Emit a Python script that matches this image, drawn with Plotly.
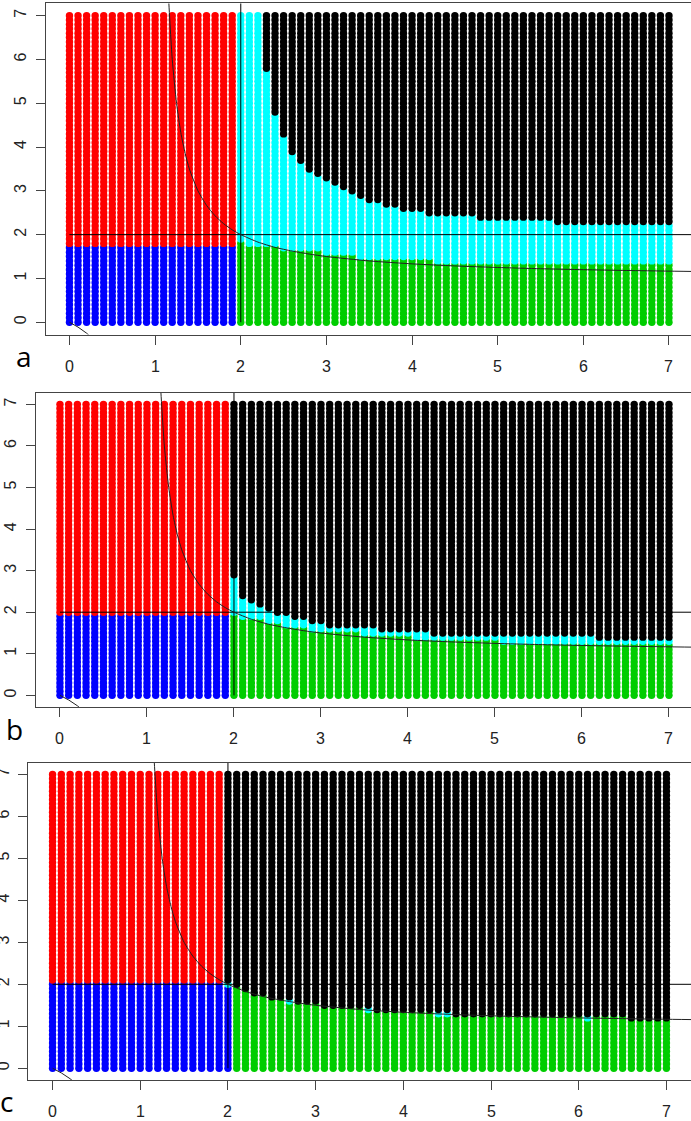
import numpy as np
import plotly.graph_objects as go

# ---------------- data ----------------
# evaluation grid (0 .. 7, step 0.1 on both axes)
grid_x = np.round(np.arange(0, 7.0001, 0.1), 1)
grid_y = np.round(np.arange(0, 7.0001, 0.1), 1)
tick_vals = [0, 1, 2, 3, 4, 5, 6, 7]
tick_text = ["0", "1", "2", "3", "4", "5", "6", "7"]
panel_letters = ["a", "b", "c"]

# columns x = 2.0 .. 7.0 (51 columns): top of lower class, bottom of black class
a_blue_top = 1.7
a_green_start = 2.0
a_low_top = [1.8] + [1.7] * 4 + [1.6] * 5 + [1.5] * 4 + [1.4] * 9 + [1.3] * 28
a_black_bottom = [7.1] * 3 + [5.8, 4.8, 4.3, 3.9, 3.7, 3.5, 3.4, 3.3, 3.2, 3.1, 3.0,
                              2.9, 2.8, 2.8, 2.7, 2.7, 2.6, 2.6, 2.6] + [2.5] * 6 + [2.4] * 9 + [2.3] * 14

b_blue_top = 1.9
b_green_start = 2.0
b_low_top = [1.9] + [1.8] * 3 + [1.7] * 2 + [1.6] * 3 + [1.5] * 6 + [1.4] * 6 + [1.3] * 10 + [1.2] * 20
b_black_bottom = [2.9, 2.4, 2.3, 2.2, 2.1, 2.0, 2.0, 1.9, 1.9, 1.8, 1.8] + [1.7] * 6 + [1.6] * 6 + [1.5] * 19 + [1.4] * 9

c_blue_top = 2.0
c_green_start = 2.1
c_low_top = [1.9, 1.9, 1.8, 1.7, 1.7, 1.6, 1.6, 1.5, 1.5, 1.5, 1.5, 1.4, 1.4, 1.4, 1.4, 1.4, 1.3] \
    + [1.3] * 7 + [1.2, 1.2] + [1.2] * 15 + [1.1] + [1.2] * 4 + [1.1] * 5
c_black_bottom = [2.1, 2.0, 1.9, 1.8, 1.8, 1.7, 1.7, 1.7, 1.6, 1.6, 1.6, 1.5, 1.5, 1.5, 1.5, 1.5, 1.5] \
    + [1.4] * 7 + [1.4, 1.4] + [1.3] * 15 + [1.3] + [1.3] * 4 + [1.2] * 5

# reference curve
curve_up_x = [1.12, 1.15, 1.2, 1.25, 1.3, 1.35, 1.4, 1.5, 1.6, 1.7, 1.8, 1.9, 2.0, 2.2, 2.4, 2.6,
              2.8, 3.0, 3.5, 4.0, 4.5, 5.0, 5.5, 6.0, 6.5, 7.0, 7.5]
curve_up_y = [9.33, 7.67, 6.0, 5.0, 4.33, 3.86, 3.5, 3.0, 2.67, 2.43, 2.25, 2.11, 2.0, 1.83, 1.71, 1.625,
              1.556, 1.5, 1.4, 1.333, 1.286, 1.25, 1.222, 1.2, 1.182, 1.167, 1.154]
curve_lo_x = [0.0, 0.1, 0.2, 0.3]
curve_lo_y = [0.0, -0.111, -0.25, -0.43]

panels = [
    dict(blue_top=a_blue_top, green_start=a_green_start, low=a_low_top, black=a_black_bottom),
    dict(blue_top=b_blue_top, green_start=b_green_start, low=b_low_top, black=b_black_bottom),
    dict(blue_top=c_blue_top, green_start=c_green_start, low=c_low_top, black=c_black_bottom),
]

COL = {"blue": "#0000FF", "green": "#00CD00", "cyan": "#00FFFF", "red": "#FF0000", "black": "#000000"}
ORDER = ["blue", "green", "cyan", "red", "black"]

# layout geometry (pixels)
W, H = 691, 1121
geo = [
    dict(left=45.5, xr=[-0.28, 7.257], top=3.4, bottom=334.5, mirror_y=False, letter=(24, 356), lab=366),
    dict(left=35.6, xr=[-0.28, 7.253], top=392.7, bottom=707.0, mirror_y=False, letter=(14, 729), lab=738),
    dict(left=28.0, xr=[-0.28, 7.28], top=762.7, bottom=1080.0, mirror_y=True, letter=(6.5, 1101), lab=1111),
]

tfont = dict(family="Liberation Sans, Arial", size=16, color="#222")

fig = go.Figure()
eps = 1e-9
for p, (pan, g) in enumerate(zip(panels, geo)):
    pts = {k: ([], []) for k in ORDER}
    for xi in grid_x:
        for yj in grid_y:
            if xi < 2.0 - eps:
                cls = "blue" if yj <= pan["blue_top"] + eps else "red"
            else:
                idx = int(round((xi - 2.0) * 10))
                lt = pan["low"][idx]
                bb = pan["black"][idx]
                if yj <= lt + eps:
                    cls = "blue" if xi < pan["green_start"] - eps else "green"
                elif yj >= bb - eps:
                    cls = "black"
                else:
                    cls = "cyan"
            pts[cls][0].append(xi)
            pts[cls][1].append(yj)
    sfx = "" if p == 0 else str(p + 1)
    for k in ORDER:
        if pts[k][0]:
            fig.add_trace(go.Scatter(x=pts[k][0], y=pts[k][1], mode="markers",
                                     marker=dict(size=7.4, color=COL[k], line=dict(width=0)),
                                     xaxis="x" + sfx, yaxis="y" + sfx, hoverinfo="skip"))
    line = dict(color="black", width=1)
    fig.add_trace(go.Scatter(x=[2, 2], y=[0, 9], mode="lines", line=line, xaxis="x" + sfx, yaxis="y" + sfx,
                             hoverinfo="skip"))
    fig.add_trace(go.Scatter(x=[0, 9], y=[2, 2], mode="lines", line=line, xaxis="x" + sfx, yaxis="y" + sfx,
                             hoverinfo="skip"))
    fig.add_trace(go.Scatter(x=curve_up_x, y=curve_up_y, mode="lines",
                             line=dict(color="#222", width=1, shape="spline", smoothing=0.6),
                             xaxis="x" + sfx, yaxis="y" + sfx, hoverinfo="skip"))
    fig.add_trace(go.Scatter(x=curve_lo_x, y=curve_lo_y, mode="lines",
                             line=dict(color="#222", width=1),
                             xaxis="x" + sfx, yaxis="y" + sfx, hoverinfo="skip"))

    axcommon = dict(showgrid=False, zeroline=False, showline=True, linecolor="#444", linewidth=1,
                    ticks="outside", ticklen=9, tickcolor="#444", tickwidth=1,
                    tickvals=tick_vals, ticktext=tick_text, automargin=False, tickfont=tfont)
    xa = dict(axcommon, domain=[g["left"] / W, 1.0], range=g["xr"], mirror=True,
              anchor="y" + sfx, showticklabels=False)
    ya = dict(axcommon, domain=[1 - g["bottom"] / H, 1 - g["top"] / H], range=[-0.28, 7.28],
              mirror=g["mirror_y"], anchor="x" + sfx, tickangle=-90, ticklabelstandoff=3)
    fig.layout["xaxis" + sfx] = xa
    fig.layout["yaxis" + sfx] = ya
    # x tick labels placed below the ticks (R-style spacing)
    for v, t in zip(tick_vals, tick_text):
        fig.add_annotation(x=v, xref="x" + sfx, y=1 - g["lab"] / H, yref="paper", text=t,
                           showarrow=False, xanchor="center", yanchor="middle", font=tfont)
    fig.add_annotation(x=g["letter"][0] / W, y=1 - g["letter"][1] / H, xref="paper", yref="paper",
                       text=panel_letters[p], showarrow=False, xanchor="center", yanchor="middle",
                       font=dict(family="Open Sans, Liberation Sans", size=28, color="black"))

fig.update_layout(width=W, height=H, margin=dict(l=0, r=0, t=0, b=0), showlegend=False,
                  hovermode=False, plot_bgcolor="white", paper_bgcolor="white")
fig.write_html("out.html",
               config={"displayModeBar": False, "staticPlot": True, "responsive": False},
               post_script="document.body.style.margin='0';document.body.style.overflow='hidden';")
